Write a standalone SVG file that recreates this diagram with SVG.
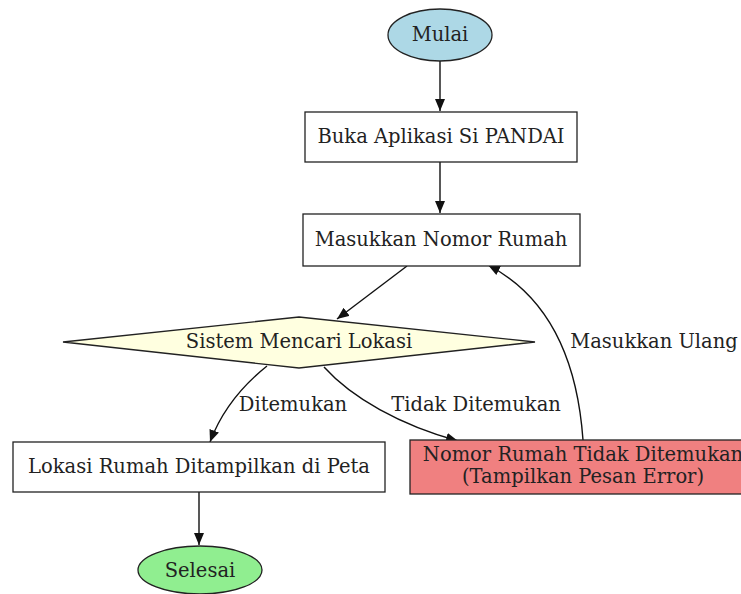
<svg xmlns="http://www.w3.org/2000/svg" width="741" height="594" viewBox="0 0 741 594">
<style>
  text { font-family: "DejaVu Serif", "Liberation Serif", serif; font-size: 19.5px; fill: #222; text-anchor: middle; }
  .shape { stroke: #222; stroke-width: 1.3; }
  .edge { fill: none; stroke: #111; stroke-width: 1.4; }
</style>
<defs>
  <marker id="arr" viewBox="0 0 12 10" refX="12" refY="5" markerWidth="12" markerHeight="10" markerUnits="userSpaceOnUse" orient="auto">
    <path d="M0,0 L12,5 L0,10 Z" fill="#111"/>
  </marker>
</defs>
<rect width="741" height="594" fill="#fff"/>
<g id="connectors">
  <path class="edge" d="M440,61 L440,111" marker-end="url(#arr)"/>
  <path class="edge" d="M440,162 L440,213" marker-end="url(#arr)"/>
  <path class="edge" d="M407,266 L337,319" marker-end="url(#arr)"/>
  <path class="edge" d="M267,366 C242,386 222,410 210,442" marker-end="url(#arr)"/>
  <path class="edge" d="M324,367 C352,398 400,425 458,441" marker-end="url(#arr)"/>
  <path class="edge" d="M583,440 C578,370 555,300 488,265" marker-end="url(#arr)"/>
  <path class="edge" d="M199,492 L199,545" marker-end="url(#arr)"/>
  <text x="293" y="411">Ditemukan</text>
  <text x="476" y="411">Tidak Ditemukan</text>
  <text x="654" y="348">Masukkan Ulang</text>
</g>
<g id="mulai">
  <ellipse class="shape" cx="440" cy="35" rx="52" ry="26" fill="#ADD8E6"/>
  <text x="440" y="41">Mulai</text>
</g>
<g id="buka">
  <rect class="shape" x="305" y="112" width="272" height="50" fill="#fff"/>
  <text x="441" y="143">Buka Aplikasi Si PANDAI</text>
</g>
<g id="masukkan">
  <rect class="shape" x="303" y="214" width="277" height="52" fill="#fff"/>
  <text x="441" y="246">Masukkan Nomor Rumah</text>
</g>
<g id="sistem">
  <polygon class="shape" points="63,342 299,317 535,342 299,368" fill="#FFFFE0"/>
  <text x="299" y="348">Sistem Mencari Lokasi</text>
</g>
<g id="lokasi">
  <rect class="shape" x="13" y="442" width="372" height="50" fill="#fff"/>
  <text x="199" y="473">Lokasi Rumah Ditampilkan di Peta</text>
</g>
<g id="error">
  <rect class="shape" x="410" y="440" width="345" height="54" fill="#F08080"/>
  <text x="583" y="461">Nomor Rumah Tidak Ditemukan</text>
  <text x="583" y="483">(Tampilkan Pesan Error)</text>
</g>
<g id="selesai">
  <ellipse class="shape" cx="200" cy="570" rx="62" ry="24" fill="#90EE90"/>
  <text x="200" y="577">Selesai</text>
</g>
</svg>
